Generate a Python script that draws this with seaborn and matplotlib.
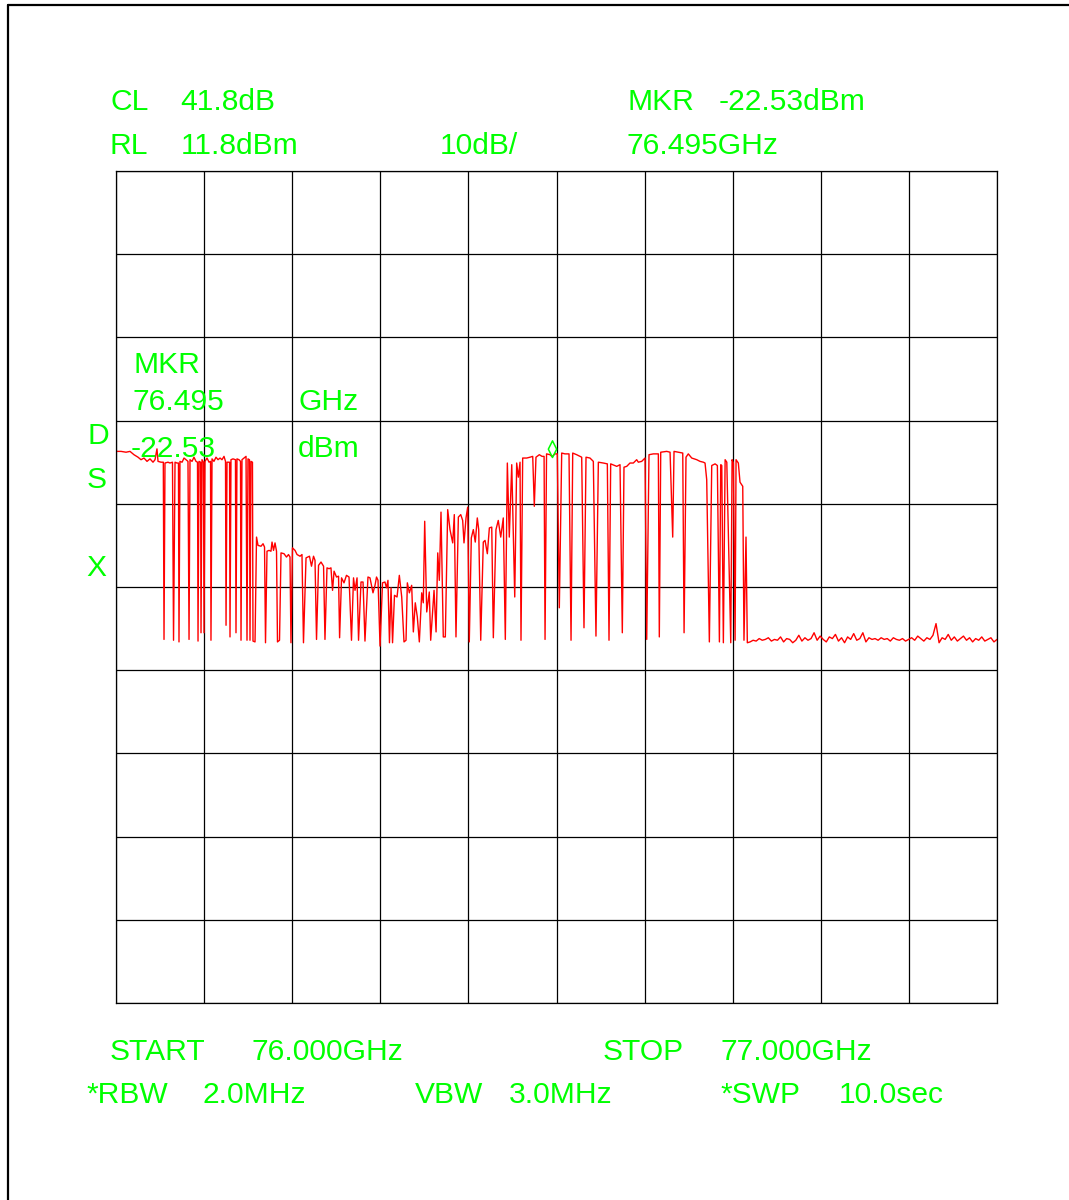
import numpy as np
import pandas as pd
import matplotlib
matplotlib.use("Agg")
import matplotlib.pyplot as plt
from matplotlib.lines import Line2D
from matplotlib.path import Path
import seaborn as sns

# ---- analyzer settings -------------------------------------------------
START_GHZ = 76.000
STOP_GHZ = 77.000
REF_LEVEL_DBM = 11.8
DB_PER_DIV = 10
N_DIV = 10
MKR_GHZ = 76.495
MKR_DBM = -22.53

# ---- trace: frequency offset from START (MHz) and level (dBm) ----------
# lower band with frequent dropouts
band1_mhz = [0.0, 5.7, 11.4, 15.9, 20.4, 25.0, 28.4, 31.8, 35.2, 38.6,
             42.0, 44.3, 46.5, 47.7, 51.1, 53.7, 54.5, 55.6, 59.0, 61.3,
             64.1, 65.3, 67.0, 69.2, 70.9, 71.5, 72.6, 75.0, 77.2, 79.5,
             81.7, 82.9, 84.0, 86.3, 88.5, 90.8, 92.5, 93.1, 94.2, 96.0,
             96.5, 97.6, 99.3, 99.9, 101.0, 103.3, 105.6, 107.3, 107.8, 109.0,
             111.2, 113.5, 115.8, 118.1, 120.3, 122.6, 124.3, 124.9, 126.0, 128.9,
             129.4, 130.5, 132.8, 135.6, 136.2, 137.3, 139.6, 141.3, 141.9, 143.0,
             145.3, 147.6, 148.7, 149.8, 151.5, 152.1, 153.2, 154.9, 155.5, 157.8]
band1_dbm = [-21.9, -21.9, -22.0, -21.9, -22.3, -22.6, -22.9, -22.7, -23.1, -22.8,
             -23.2, -22.9, -21.6, -23.1, -23.2, -23.2, -44.5, -23.3, -23.2, -23.3,
             -23.2, -44.6, -23.2, -23.3, -23.3, -44.8, -23.1, -23.2, -22.7, -22.9,
             -23.1, -44.5, -22.9, -23.1, -22.6, -23.1, -23.2, -44.7, -23.1, -23.2,
             -43.7, -22.9, -23.2, -43.7, -23.1, -22.7, -23.2, -23.1, -44.6, -22.8,
             -23.1, -22.6, -22.9, -22.7, -22.9, -22.5, -23.1, -42.8, -23.2, -23.2,
             -44.2, -22.9, -22.8, -22.9, -43.7, -22.8, -22.9, -23.1, -44.6, -22.9,
             -22.7, -22.5, -44.6, -22.8, -22.9, -44.6, -23.1, -23.2, -44.7, -44.8]

# sloping middle section
mid_mhz = [159.5, 161.2, 164.6, 166.9, 168.6, 169.7, 171.4, 173.7, 175.9, 177.1,
           178.8, 180.5, 182.2, 183.3, 185.6, 187.3, 190.7, 193.5, 195.8, 197.5,
           198.6, 200.3, 203.2, 205.5, 208.9, 211.1, 212.8, 215.7, 219.6, 221.9,
           224.2, 225.9, 227.6, 229.9, 232.7, 235.6, 237.2, 239.5, 241.8, 244.0,
           245.8, 247.5, 250.3, 252.6, 253.8, 256.0, 258.8, 261.6, 264.5, 267.3,
           269.6, 271.3, 273.6, 275.3, 278.1, 280.4, 282.6, 286.0, 288.3, 291.7,
           294.0, 295.7, 297.4, 299.7, 302.5, 305.3, 307.0, 308.7, 310.4, 312.2,
           313.9, 316.1, 319.0, 321.6, 324.3, 326.9, 329.2, 330.7, 333.0, 335.6,
           337.5, 339.7, 342.0, 344.3, 347.0, 348.8, 350.4, 352.7, 355.6, 357.2,
           359.5, 361.0, 363.3, 365.2, 367.0, 368.9, 371.5, 373.8, 376.5, 379.1,
           382.2, 384.0, 385.9, 388.6, 391.3, 393.5, 395.0, 397.3, 399.2, 401.0,
           403.3, 405.6, 407.8, 410.1, 411.7, 414.0, 416.9, 418.9, 421.5, 423.8,
           426.5, 428.3, 431.3, 433.9, 436.7, 439.6, 441.9]
mid_dbm = [-32.2, -33.2, -33.3, -33.0, -33.4, -44.9, -33.9, -33.8, -33.9, -32.8,
           -33.8, -32.9, -33.9, -44.8, -44.6, -34.1, -34.2, -34.6, -34.3, -34.6,
           -44.9, -33.5, -33.8, -34.3, -34.5, -34.3, -44.9, -34.7, -34.5, -35.7,
           -34.5, -35.0, -44.5, -35.6, -35.2, -35.7, -44.5, -35.9, -36.0, -35.9,
           -38.6, -36.3, -37.0, -36.9, -44.3, -37.1, -37.7, -36.8, -37.0, -44.6,
           -37.1, -38.6, -37.1, -44.6, -37.6, -37.6, -44.7, -37.0, -37.1, -38.9,
           -38.0, -37.0, -37.4, -45.3, -37.7, -37.6, -38.3, -37.4, -44.9, -38.3,
           -44.9, -39.2, -39.4, -36.8, -39.4, -44.8, -44.6, -37.7, -38.9, -38.0,
           -43.6, -40.1, -41.8, -44.8, -38.9, -40.1, -30.3, -41.2, -38.8, -44.6,
           -41.0, -38.6, -43.6, -34.1, -37.4, -29.2, -44.2, -44.2, -28.9, -31.3,
           -32.9, -29.5, -44.2, -29.8, -29.5, -30.2, -32.9, -29.9, -28.6, -44.8,
           -32.3, -31.3, -32.8, -29.9, -31.3, -44.6, -32.8, -32.6, -34.2, -31.1,
           -31.0, -44.3, -31.3, -30.2, -32.2, -29.9, -44.5]

# upper band around the marker
band2_mhz = [444.2, 446.4, 449.2, 452.6, 454.8, 456.7, 458.6, 459.7, 461.6, 466.2,
             469.9, 473.0, 474.8, 476.7, 480.5, 483.6, 485.9, 487.0, 488.7, 492.6,
             495.0, 498.3, 500.9, 503.2, 505.9, 509.6, 514.2, 516.5, 518.4, 522.9,
             528.6, 531.2, 533.5, 538.0, 541.8, 544.8, 547.5, 553.2, 557.7, 559.6,
             561.5, 568.4, 572.1, 574.7, 576.6, 579.7, 583.4, 587.2, 591.0, 592.9,
             596.7, 600.5, 602.4, 605.0, 609.9, 615.6, 616.7, 618.3, 625.1, 628.9,
             631.9, 633.4, 638.3, 643.3, 644.8, 647.0, 649.6, 653.5, 659.2, 662.9,
             666.7, 668.6, 670.5, 673.5, 676.2, 680.0, 682.6, 684.9, 686.4, 687.6,
             689.4, 691.4, 693.3, 697.8, 699.3, 700.8, 702.7, 703.8, 706.4, 708.3,
             711.4, 712.8, 715.1, 716.6]
band2_dbm = [-23.3, -32.2, -23.5, -39.4, -23.3, -25.0, -23.2, -44.6, -22.7, -22.7,
             -22.6, -22.5, -28.5, -22.6, -22.3, -22.5, -22.5, -44.5, -22.2, -22.3,
             -22.53, -22.2, -22.2, -40.7, -22.1, -22.2, -22.2, -44.6, -22.1, -22.3,
             -22.6, -43.1, -22.6, -22.7, -23.1, -44.1, -23.2, -23.3, -23.4, -44.6,
             -23.4, -23.7, -23.5, -43.7, -23.8, -23.7, -23.3, -23.3, -22.9, -23.2,
             -23.1, -22.7, -44.5, -22.3, -22.2, -22.2, -44.2, -22.0, -21.9, -22.0,
             -32.2, -21.9, -22.0, -22.1, -43.7, -22.6, -22.2, -22.7, -22.9, -23.1,
             -23.2, -23.3, -25.3, -44.8, -23.6, -23.4, -23.6, -44.8, -23.5, -23.6,
             -44.9, -22.9, -23.2, -44.9, -22.9, -23.3, -44.6, -22.9, -23.3, -25.6,
             -26.1, -44.6, -32.2, -44.9]

# noise floor above the band, evenly swept from 719.7 MHz to STOP
floor_first_mhz = 719.7
floor_dbm = [-44.8, -44.6, -44.7, -44.4, -44.6, -44.5, -44.3, -44.7, -44.5, -44.6,
             -44.2, -44.8, -44.4, -44.5, -44.9, -44.6, -44.0, -44.7, -44.3, -44.6,
             -44.4, -43.7, -44.6, -44.1, -44.5, -44.8, -44.2, -44.4, -43.9, -44.7,
             -44.3, -44.9, -44.2, -44.5, -43.8, -44.6, -44.4, -43.7, -44.8, -44.3,
             -44.5, -44.4, -44.6, -44.3, -44.5, -44.4, -44.7, -44.3, -44.5, -44.6,
             -44.4, -44.7, -44.5, -44.3, -44.6, -44.1, -44.4, -44.7, -44.3, -44.5,
             -44.0, -42.6, -44.9, -44.3, -44.5, -43.9, -44.6, -44.2, -44.7, -44.4,
             -44.1, -44.6, -44.3, -44.8, -44.4, -44.6, -44.2, -44.7, -44.5, -44.3,
             -44.8, -44.5]

span_mhz = (STOP_GHZ - START_GHZ) * 1000
floor_mhz = np.linspace(floor_first_mhz, span_mhz, len(floor_dbm))

offset_mhz = np.concatenate([band1_mhz, mid_mhz, band2_mhz, floor_mhz])
level_dbm = np.concatenate([band1_dbm, mid_dbm, band2_dbm, floor_dbm])
trace = pd.DataFrame({
    "freq_ghz": START_GHZ + offset_mhz / 1000.0,
    "level_dbm": level_dbm,
})

# ---- styling -----------------------------------------------------------
sns.set_theme(style="white")
plt.rcParams["font.family"] = ["Liberation Sans", "DejaVu Sans"]
GREEN = "#00ff00"
TRACE_RED = "#ff0000"
W, H = 1069, 1200

fig = plt.figure(figsize=(W / 100, H / 100), dpi=100)
fig.patch.set_facecolor("white")
ax = fig.add_axes([116 / W, 1 - 1003 / H, 881 / W, 832 / H])

bottom_dbm = REF_LEVEL_DBM - DB_PER_DIV * N_DIV
sns.lineplot(data=trace, x="freq_ghz", y="level_dbm", ax=ax,
             color=TRACE_RED, linewidth=1.0, estimator=None, sort=False)

ax.set_xlim(START_GHZ, STOP_GHZ)
ax.set_ylim(bottom_dbm, REF_LEVEL_DBM)
ax.set_xticks(np.linspace(START_GHZ, STOP_GHZ, N_DIV + 1))
ax.set_yticks(np.linspace(bottom_dbm, REF_LEVEL_DBM, N_DIV + 1))
ax.grid(True, color="black", linewidth=0.9)
ax.tick_params(length=0, labelbottom=False, labelleft=False)
ax.set_xlabel("")
ax.set_ylabel("")
ax.set_facecolor("white")
for s in ax.spines.values():
    s.set_color("black")
    s.set_linewidth(0.9)

# marker diamond sitting on the trace point
diamond = Path([(0, 0), (-0.5, 1), (0, 2), (0.5, 1), (0, 0)],
               [Path.MOVETO, Path.LINETO, Path.LINETO, Path.LINETO, Path.CLOSEPOLY])
ax.plot([MKR_GHZ], [MKR_DBM], marker=diamond, markersize=24, linestyle="none",
        markerfacecolor="none", markeredgecolor=GREEN, markeredgewidth=1.1, zorder=5)

# ---- annotation text ---------------------------------------------------
def label(x_px, y_px, s):
    fig.text(x_px / W, 1 - y_px / H, s, color=GREEN, fontsize=21.6,
             ha="left", va="baseline")

label(110, 110, "CL")
label(180, 110, f"{REF_LEVEL_DBM + 30:.1f}dB")
label(627, 110, "MKR")
label(719, 110, f"{MKR_DBM:.2f}dBm")
label(110, 154, "RL")
label(181, 154, f"{REF_LEVEL_DBM:.1f}dBm")
label(440, 154, f"{DB_PER_DIV}dB/")
label(627, 154, f"{MKR_GHZ:.3f}GHz")

label(133, 373, "MKR")
label(133, 410, f"{MKR_GHZ:.3f}")
label(298, 410, "GHz")
label(131, 457, f"{MKR_DBM:.2f}")
label(298, 457, "dBm")
label(87, 444, "D")
label(87, 488, "S")
label(86, 576, "X")

label(110, 1060, "START")
label(251, 1060, f"{START_GHZ:.3f}GHz")
label(603, 1060, "STOP")
label(720, 1060, f"{STOP_GHZ:.3f}GHz")
label(86, 1103, "*RBW")
label(203, 1103, "2.0MHz")
label(415, 1103, "VBW")
label(509, 1103, "3.0MHz")
label(720, 1103, "*SWP")
label(839, 1103, "10.0sec")

# outer frame edges (left and top)
fig.add_artist(Line2D([8 / W, 8 / W], [0, 1 - 5 / H], transform=fig.transFigure,
                      color="black", linewidth=1.6))
fig.add_artist(Line2D([8 / W, 1], [1 - 5 / H, 1 - 5 / H], transform=fig.transFigure,
                      color="black", linewidth=1.6))

fig.savefig("out.png", dpi=100, facecolor="white")
